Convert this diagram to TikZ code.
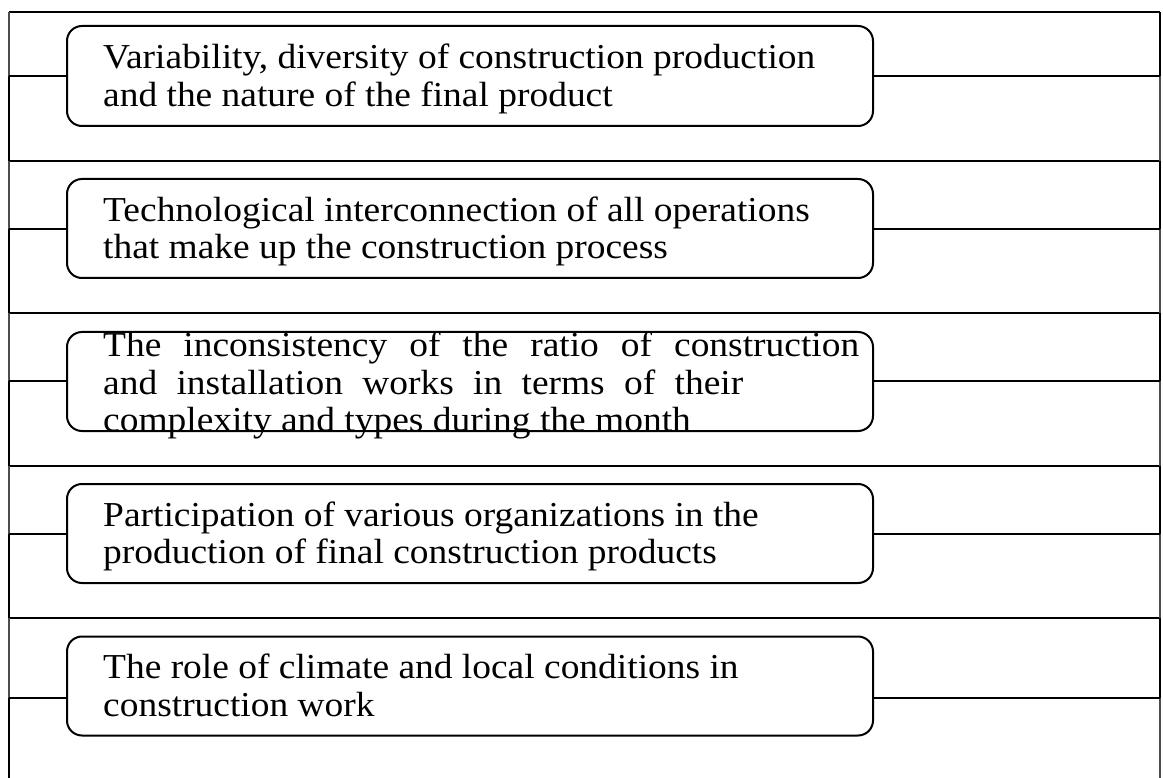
\documentclass[tikz,border=0pt]{standalone}
\usepackage{fontspec}
\setmainfont{Liberation Serif}
\newfontfamily\boxfont[FakeStretch=1.07]{Liberation Serif}
\begin{document}
\begin{tikzpicture}[x=1pt,y=-1pt,
  thickline/.style={line width=2pt,black},
  thinline/.style={line width=1.1pt,black!70},
  itembox/.style={draw,line width=2pt,rounded corners=15pt,minimum width=806pt,outer sep=0pt,inner sep=0pt},
  itemtext/.style={anchor=north west,inner sep=0pt,align=left,font=\boxfont\fontsize{35}{37.5}\selectfont}]
\useasboundingbox (0,0) rectangle (1163,778);
% frame coordinates
\coordinate (L0) at (9,12);    \coordinate (R0) at (1160,12);
\coordinate (Ld1) at (9,161.5); \coordinate (Rd1) at (1160,161.5);
\coordinate (Ld2) at (9,313);   \coordinate (Rd2) at (1160,313);
\coordinate (Ld3) at (9,465.5); \coordinate (Rd3) at (1160,465.5);
\coordinate (Ld4) at (9,618);   \coordinate (Rd4) at (1160,618);
\coordinate (Lb) at (9,778);    \coordinate (Rb) at (1160,778);
\coordinate (Lc1) at (9,76);    \coordinate (Rc1) at (1160,76);
\coordinate (Lc2) at (9,229);   \coordinate (Rc2) at (1160,229);
\coordinate (Lc3) at (9,381);   \coordinate (Rc3) at (1160,381);
\coordinate (Lc4) at (9,534);   \coordinate (Rc4) at (1160,534);
\coordinate (Lc5) at (9,698);   \coordinate (Rc5) at (1160,698);
% boxes
\node[itembox,minimum height=100pt] (b1) at (470,76) {};
\node[itembox,minimum height=99pt] (b2) at (470,228.5) {};
\node[itembox,minimum height=99pt] (b3) at (470,381.5) {};
\node[itembox,minimum height=99pt] (b4) at (470,533.5) {};
\node[itembox,minimum height=99pt] (b5) at (470,686) {};
% texts
\node[itemtext] (t1) at (103,44) {Variability, diversity of construction production\\and the nature of the final product};
\node[itemtext] (t2) at (103,196.5) {Technological interconnection of all operations\\that make up the construction process};
\node[itemtext] (t3) at (103,332) {\makebox[756pt][s]{The inconsistency of the ratio of construction}\\\makebox[640pt][s]{and installation works in terms of their}\\complexity and types during the month};
\node[itemtext] (t4) at (103,501.5) {Participation of various organizations in the\\production of final construction products};
\node[itemtext] (t5) at (103,654) {The role of climate and local conditions in\\construction work};
% top line and dividers
\draw[thickline] (L0) -- (R0);
\draw[thickline] (Ld1) -- (Rd1);
\draw[thickline] (Ld2) -- (Rd2);
\draw[thickline] (Ld3) -- (Rd3);
\draw[thickline] (Ld4) -- (Rd4);
% left border
\draw[thinline] (L0) -- (Lc1);  \draw[thickline] (Lc1) -- (Ld1);
\draw[thinline] (Ld1) -- (Lc2); \draw[thickline] (Lc2) -- (Ld2);
\draw[thinline] (Ld2) -- (Lc3); \draw[thickline] (Lc3) -- (Ld3);
\draw[thinline] (Ld3) -- (Lc4); \draw[thickline] (Lc4) -- (Ld4);
\draw[thinline] (Ld4) -- (Lc5); \draw[thickline] (Lc5) -- (Lb);
% right border
\draw[thickline] (R0) -- (Rc1);  \draw[thinline] (Rc1) -- (Rd1);
\draw[thickline] (Rd1) -- (Rc2); \draw[thinline] (Rc2) -- (Rd2);
\draw[thickline] (Rd2) -- (Rc3); \draw[thinline] (Rc3) -- (Rd3);
\draw[thickline] (Rd3) -- (Rc4); \draw[thinline] (Rc4) -- (Rd4);
\draw[thickline] (Rd4) -- (Rc5); \draw[thinline] (Rc5) -- (Rb);
% connectors
\draw[thickline] (Lc1) -- (Lc1 -| b1.west);  \draw[thickline] (Rc1 -| b1.east) -- (Rc1);
\draw[thickline] (Lc2) -- (Lc2 -| b2.west);  \draw[thickline] (Rc2 -| b2.east) -- (Rc2);
\draw[thickline] (Lc3) -- (Lc3 -| b3.west);  \draw[thickline] (Rc3 -| b3.east) -- (Rc3);
\draw[thickline] (Lc4) -- (Lc4 -| b4.west);  \draw[thickline] (Rc4 -| b4.east) -- (Rc4);
\draw[thickline] (Lc5) -- (Lc5 -| b5.west);  \draw[thickline] (Rc5 -| b5.east) -- (Rc5);
\end{tikzpicture}
\end{document}
